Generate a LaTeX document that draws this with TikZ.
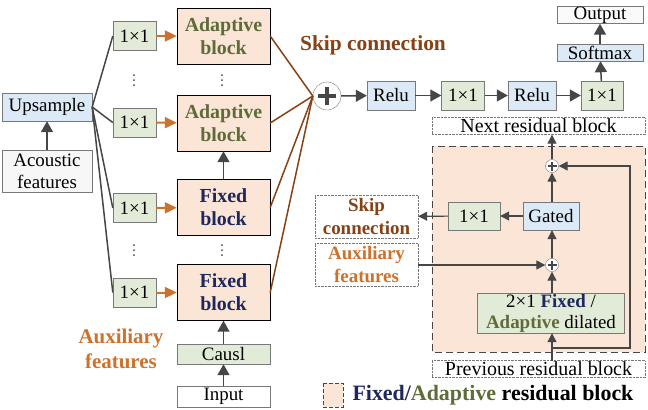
\documentclass[tikz,border=0pt]{standalone}
\usepackage{fontspec}
\setmainfont{Liberation Serif}
\usepackage{tikz}
\usetikzlibrary{arrows.meta}
\definecolor{peach}{RGB}{251,229,214}
\definecolor{convgreen}{RGB}{226,235,215}
\definecolor{actblue}{RGB}{220,233,246}
\definecolor{linegray}{RGB}{70,70,70}
\definecolor{boxgray}{RGB}{120,120,120}
\definecolor{auxorange}{RGB}{204,114,44}
\definecolor{skipbrown}{RGB}{134,66,20}
\definecolor{fixedc}{RGB}{30,40,92}
\definecolor{adaptc}{RGB}{94,108,58}
\tikzset{conv style/.style={
		draw=boxgray,
		thin,
		fill=convgreen,
		minimum width=43bp,
		minimum height=29bp,
		inner sep=0pt,
		align=center,
	},
	act style/.style={
		draw=boxgray,
		thin,
		fill=actblue,
		minimum width=48bp,
		minimum height=29bp,
		inner sep=0pt,
	},
	block style/.style={
		draw=black,
		thin,
		fill=peach,
		minimum width=93bp,
		minimum height=56bp,
		inner sep=0pt,
		align=center,
		font=\fontsize{20}{23}\selectfont\bfseries,
	},
	plain style/.style={
		draw=boxgray,
		thin,
		fill=white,
		inner sep=0pt,
		align=center,
	},
	dotted style/.style={
		draw=boxgray,
		densely dotted,
		fill=white,
		inner sep=0pt,
		align=center,
	},
	sum style/.style={
		circle,
		draw=boxgray,
		thin,
		fill=white,
		minimum size=28bp,
		inner sep=0pt,
		path picture={
			\draw[linegray, line width=4bp]
			([xshift=-9bp]path picture bounding box.center) -- ([xshift=9bp]path picture bounding box.center)
			([yshift=-9bp]path picture bounding box.center) -- ([yshift=9bp]path picture bounding box.center);
		},
	},
	small sum style/.style={
		circle,
		draw=boxgray,
		thin,
		fill=white,
		minimum size=13bp,
		inner sep=0pt,
		path picture={
			\draw[linegray, line width=1.8bp]
			([xshift=-4.5bp]path picture bounding box.center) -- ([xshift=4.5bp]path picture bounding box.center)
			([yshift=-4.5bp]path picture bounding box.center) -- ([yshift=4.5bp]path picture bounding box.center);
		},
	},
	flow/.style={
		draw=linegray,
		line width=1.5bp,
		-{Triangle[length=11bp,width=12bp]}
	},
	small flow/.style={
		draw=linegray,
		line width=1.2bp,
		-{Triangle[length=9bp,width=9bp]}
	},
	aux flow/.style={
		draw=auxorange,
		line width=2bp,
		-{Triangle[length=12bp,width=11bp]}
	},
	skip line/.style={
		draw=skipbrown,
		line width=1.5bp
	}
}

\begin{document}
\begin{tikzpicture}[x=1bp,y=-1bp,font=\fontsize{19}{22}\selectfont]
	\useasboundingbox (0,0) rectangle (648,409);
	
	% residual block background
	\fill[peach] (432,146) rectangle (645,352);
	\draw[linegray, thick, dash pattern=on 7bp off 4bp] (432,146) rectangle (645,352);
	
	% left column
	\node[act style, minimum width=90bp, minimum height=28bp] (Upsample) at (47,107) {Upsample};
	\node[plain style, fill=gray!6, minimum width=90bp, minimum height=42bp] (Acoustic) at (47,171) {Acoustic\\features};
	\draw[flow] (Acoustic) -- (Upsample);
	
	\node[conv style] (ConvA) at (134.5,36) {1×1};
	\node[conv style] (ConvB) at (134.5,122.5) {1×1};
	\node[conv style] (ConvC) at (134.5,208) {1×1};
	\node[conv style] (ConvD) at (134.5,292.5) {1×1};
	\foreach \c in {ConvA,ConvB,ConvC,ConvD}
		\draw[linegray, line width=1.5bp] (Upsample.east) -- (\c.west);
	
	\node[block style, text=adaptc] (AdaptA) at (223.5,36) {Adaptive\\block};
	\node[block style, text=adaptc] (AdaptB) at (223.5,123) {Adaptive\\block};
	\node[block style, text=fixedc] (FixedA) at (223.5,207.5) {Fixed\\block};
	\node[block style, text=fixedc] (FixedB) at (223.5,292.5) {Fixed\\block};
	\node[conv style, minimum width=93bp, minimum height=20bp] (Causl) at (223.5,354) {Causl};
	\node[plain style, minimum width=93bp, minimum height=21bp] (Input) at (223.5,396.5) {Input};
	
	\draw[aux flow] (ConvA) -- (AdaptA);
	\draw[aux flow] (ConvB) -- (AdaptB);
	\draw[aux flow] (ConvC) -- (FixedA);
	\draw[aux flow] (ConvD) -- (FixedB);
	\draw[flow] (FixedA) -- (AdaptB);
	\draw[flow] (Causl) -- (FixedB);
	\draw[flow] (Input) -- (Causl);
	
	% vertical dots
	\foreach \x/\y in {134/80,222/80,134/250,222/250}
		\foreach \d in {-5,0,5}
			\fill[linegray] (\x,\y+\d) circle (1bp);
	
	\node[text=auxorange, font=\fontsize{21}{25}\selectfont\bfseries, align=center] (AuxLabel) at (121,349) {Auxiliary\\features};
	
	% skip connections and output head
	\node[sum style] (Sum) at (327,96) {};
	\foreach \b in {AdaptA,AdaptB,FixedA,FixedB}
		\draw[skip line] (\b.east) -- (Sum.west);
	\node[text=skipbrown, font=\fontsize{21.5}{24}\selectfont\bfseries] (SkipLabel) at (373,45) {Skip connection};
	
	\node[act style] (ReluA) at (391,95.5) {Relu};
	\node[conv style] (ConvE) at (463,95.5) {1×1};
	\node[act style] (ReluB) at (532,95.5) {Relu};
	\node[conv style, minimum width=42bp] (ConvF) at (602,95.5) {1×1};
	\node[act style, minimum width=86bp, minimum height=17bp] (Softmax) at (600,52.5) {Softmax};
	\node[plain style, fill=gray!4, minimum width=86bp, minimum height=17bp] (Output) at (600,15) {Output};
	\draw[flow] (Sum) -- (ReluA);
	\draw[flow] (ReluA) -- (ConvE);
	\draw[flow] (ConvE) -- (ReluB);
	\draw[flow] (ReluB) -- (ConvF);
	\draw[flow] (ConvF) -- (Softmax);
	\draw[flow] (Softmax) -- (Output);
	
	% residual block detail
	\node[dotted style, minimum width=213bp, minimum height=17bp, font=\fontsize{20}{22}\selectfont] (Next) at (538.5,126) {Next residual block};
	\node[dotted style, minimum width=213bp, minimum height=17bp, font=\fontsize{20}{22}\selectfont] (Prev) at (538.5,369) {Previous residual block};
	\node[small sum style] (SumTop) at (552,166) {};
	\node[act style, minimum width=56bp, minimum height=28bp] (Gated) at (551,216) {Gated};
	\node[conv style, minimum width=52bp, minimum height=28bp] (ConvG) at (474,216) {1×1};
	\node[dotted style, minimum width=103bp, minimum height=43bp, text=skipbrown, font=\fontsize{19}{23}\selectfont\bfseries] (SkipBox) at (366.5,216.5) {Skip\\connection};
	\node[dotted style, minimum width=103bp, minimum height=43bp, text=auxorange, font=\fontsize{19}{23}\selectfont\bfseries] (AuxBox) at (366.5,264.5) {Auxiliary\\features};
	\node[small sum style] (SumLow) at (552,265) {};
	\node[conv style, minimum width=147bp, minimum height=40bp, font=\fontsize{19}{21}\selectfont] (Dilated) at (551,313) {2×1 \textbf{\color{fixedc}Fixed} /\\\textbf{\color{adaptc}Adaptive} dilated};
	
	\coordinate (PrevTop) at (552,360.5);
	\coordinate (ResStart) at (552,348);
	\coordinate (ResCorner) at (630,348);
	\coordinate (ResTop) at (630,166);
	
	\draw[small flow] (PrevTop) -- (PrevTop |- Dilated.south);
	\draw[small flow] (Dilated.north -| SumLow) -- (SumLow);
	\draw[small flow] (SumLow) -- (SumLow |- Gated.south);
	\draw[small flow] (SumLow |- Gated.north) -- (SumTop);
	\draw[small flow] (SumTop) -- (SumTop |- Next.south);
	\draw[small flow] (Gated) -- (ConvG);
	\draw[small flow] (ConvG) -- (SkipBox);
	\draw[small flow] (AuxBox.east |- SumLow) -- (SumLow);
	\draw[small flow] (ResStart) -- (ResCorner) -- (ResTop) -- (SumTop);
	
	% legend
	\draw[linegray, dash pattern=on 4bp off 2bp, fill=peach] (323,383) rectangle (343,407);
	\node[anchor=west, font=\fontsize{22}{24}\selectfont\bfseries] (Legend) at (349,395) {\color{fixedc}Fixed/\color{adaptc}Adaptive \color{black}residual block};
\end{tikzpicture}
\end{document}
